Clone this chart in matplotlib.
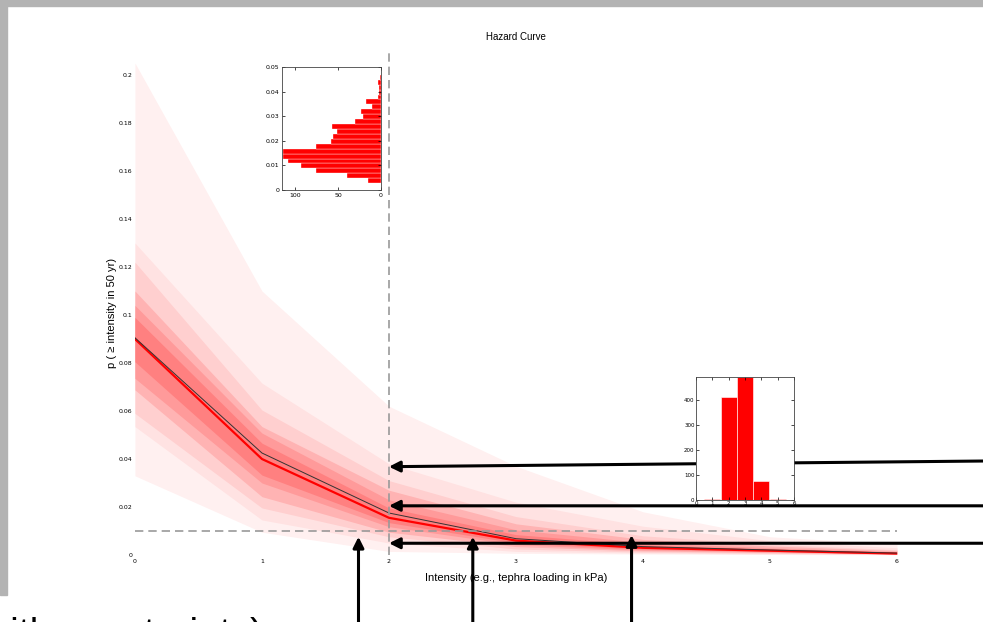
import numpy as np
import matplotlib.pyplot as plt
from matplotlib.patches import Rectangle

# hazard curve data
intensity = [0, 1, 2, 3, 4, 5, 6]
p_median = [0.090, 0.040, 0.0155, 0.006, 0.003, 0.0018, 0.0006]
p_mean = [0.0905, 0.0425, 0.0175, 0.0068, 0.0035, 0.0021, 0.0008]

# percentile bands, outermost first
band_upper = [
    [0.205, 0.110, 0.062, 0.037, 0.018, 0.0076, 0.0045],
    [0.130, 0.0716, 0.038, 0.022, 0.012, 0.006, 0.003],
    [0.122, 0.0604, 0.031, 0.016, 0.008, 0.0045, 0.0022],
    [0.110, 0.0535, 0.027, 0.013, 0.0065, 0.0038, 0.0018],
    [0.104, 0.0508, 0.023, 0.0105, 0.0052, 0.003, 0.0014],
    [0.099, 0.0466, 0.0196, 0.0085, 0.0043, 0.0025, 0.0011],
]
band_lower = [
    [0.033, 0.0095, 0.0015, 0.0007, 0.0004, 0.0002, 0.0001],
    [0.0535, 0.0146, 0.005, 0.0015, 0.0008, 0.0004, 0.0002],
    [0.059, 0.0196, 0.0076, 0.0025, 0.0012, 0.0007, 0.0003],
    [0.0688, 0.0243, 0.0095, 0.0035, 0.0017, 0.001, 0.0004],
    [0.0736, 0.030, 0.0118, 0.0043, 0.0021, 0.0013, 0.0005],
    [0.0805, 0.0333, 0.0135, 0.005, 0.0025, 0.0015, 0.0005],
]
band_colors = ['#fff0f0', '#ffe2e2', '#ffcfcf', '#ffb3b3', '#ff9a9a', '#ff8080']

yticks = [0, 0.02, 0.04, 0.06, 0.08, 0.1, 0.12, 0.14, 0.16, 0.18, 0.2]
ytick_labels = ['0', '0.02', '0.04', '0.06', '0.08', '0.1', '0.12', '0.14', '0.16', '0.18', '0.2']

# histogram of p at intensity 2 (horizontal inset)
hist1_centers = [0.0038 + 0.002 * k for k in range(22)]
hist1_counts = [15, 40, 76, 93, 108, 114, 114, 76, 58, 56, 51, 57, 30, 21, 23, 10, 18, 4, 2, 2, 3, 1]

# histogram of intensity at p = 0.01
hist2_centers = [1, 2, 3, 4, 5]
hist2_counts = [6, 413, 495, 76, 3]

# arrows: tip points
h_arrow_tips = [0.0368, 0.0205, 0.0049]
h_arrow_tails = [0.0392, 0.0205, 0.0049]
v_arrow_x = [1.76, 2.66, 3.91]
v_arrow_tips = [0.0076, 0.0076, 0.0083]

tick_font = ['Liberation Sans Narrow', 'DejaVu Sans']
label_font = ['Liberation Sans', 'DejaVu Sans']

fig = plt.figure(figsize=(9.83, 6.22), dpi=100)

# slide background border
fig.patches.append(Rectangle((0, 1 - 6 / 622), 1, 6 / 622, transform=fig.transFigure,
                             color='#b3b3b3', zorder=0))
fig.patches.append(Rectangle((0, 1 - 595 / 622), 7 / 983, 595 / 622, transform=fig.transFigure,
                             color='#b3b3b3', zorder=0))

ax = fig.add_axes([0.1373, 0.1077, 0.7752, 0.8103])
for up, lo, c in zip(band_upper, band_lower, band_colors):
    ax.fill_between(intensity, lo, up, color=c, lw=0)
ax.plot(intensity, p_median, color='red', lw=1.6)
ax.plot(intensity, p_mean, color='#333333', lw=0.7)
ax.axvline(2, color='#999999', ls=(0, (5, 3)), lw=1.2)
ax.axhline(0.01, color='#999999', ls=(0, (5, 3)), lw=1.2)

ax.set_xlim(0, 6)
ax.set_ylim(0, 0.21)
ax.set_yticks(yticks)
ax.set_yticklabels(ytick_labels, family=tick_font, fontsize=4.5)
ax.set_xticks(intensity)
ax.set_xticklabels([str(v) for v in intensity], family=tick_font, fontsize=4.5)
ax.tick_params(axis='y', length=0, pad=2)
ax.tick_params(axis='x', length=0, pad=3)
for s in ax.spines.values():
    s.set_visible(False)
ax.set_title('Hazard Curve', family=label_font, fontsize=7, pad=8)
ax.set_xlabel('Intensity (e.g., tephra loading in kPa)', family=label_font, fontsize=8, labelpad=6)
ax.set_ylabel('p ( \u2265 intensity in 50 yr)', family=label_font, fontsize=8)
ax.yaxis.set_label_coords(-0.023, 0.48)

# inset 1: distribution of probability at intensity 2
ax1 = fig.add_axes([282 / 983, 1 - 190 / 622, 99 / 983, 123 / 622])
ax1.barh(hist1_centers, hist1_counts, height=0.002, color='red', edgecolor='white', lw=0.25)
ax1.set_ylim(0, 0.05)
ax1.set_xlim(115, 0)
ax1.set_xticks([100, 50, 0])
ax1.set_yticks([0, 0.01, 0.02, 0.03, 0.04, 0.05])
ax1.set_yticklabels(['0', '0.01', '0.02', '0.03', '0.04', '0.05'])
ax1.tick_params(direction='in', length=2, width=0.5, labelsize=4.5, top=True, right=True, pad=2)
for lab in ax1.get_xticklabels() + ax1.get_yticklabels():
    lab.set_family(tick_font)
for s in ax1.spines.values():
    s.set_linewidth(0.6)
    s.set_color('#444444')

# inset 2: distribution of intensity at p = 0.01
ax2 = fig.add_axes([696 / 983, 1 - 500 / 622, 98 / 983, 123 / 622])
ax2.bar(hist2_centers, hist2_counts, width=0.96, color='red', edgecolor='white', lw=0.4)
ax2.set_xlim(0, 6)
ax2.set_ylim(0, 493)
ax2.set_xticks([0, 1, 2, 3, 4, 5, 6])
ax2.set_yticks([0, 100, 200, 300, 400])
ax2.tick_params(direction='in', length=2, width=0.5, labelsize=4, top=True, right=True, pad=1)
for lab in ax2.get_xticklabels() + ax2.get_yticklabels():
    lab.set_family(tick_font)
for s in ax2.spines.values():
    s.set_linewidth(0.6)
    s.set_color('#444444')

# slide arrows
arr = dict(arrowstyle='-|>', lw=2.2, color='black', mutation_scale=16, shrinkA=0, shrinkB=0)
for tip, tail in zip(h_arrow_tips, h_arrow_tails):
    ax.annotate('', xy=(2, tip), xycoords='data', xytext=(1.01, tail),
                textcoords=('figure fraction', 'data'), arrowprops=arr)
for vx, tip in zip(v_arrow_x, v_arrow_tips):
    ax.annotate('', xy=(vx, tip), xycoords='data', xytext=(vx, -0.01),
                textcoords=('data', 'figure fraction'), arrowprops=arr)

# cut-off slide text
fig.text(-0.018, -0.037, 'with constraints)', family=label_font, fontsize=28, va='baseline')

fig.savefig('out.png', dpi=100)
